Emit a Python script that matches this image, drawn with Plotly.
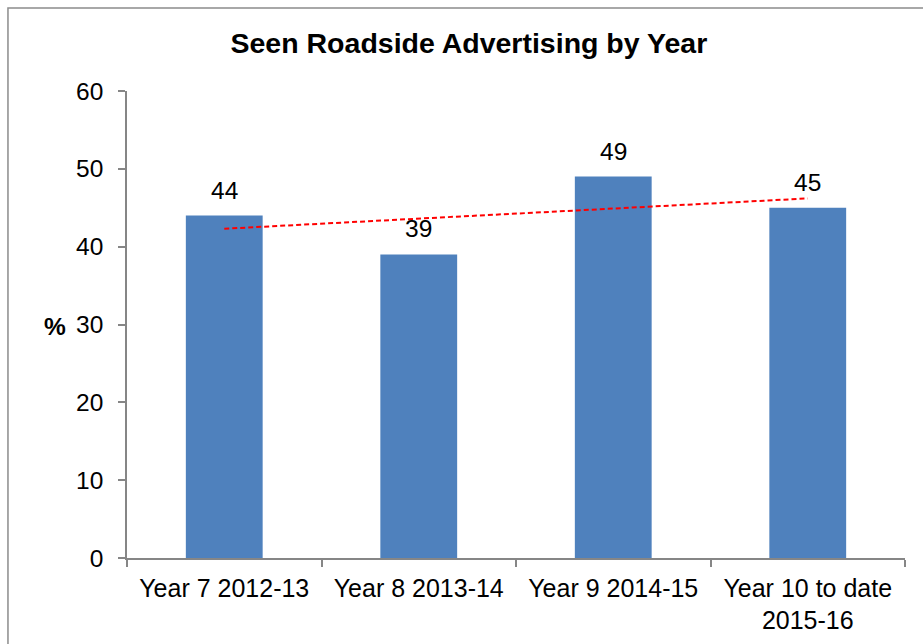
import numpy as np
import plotly.graph_objects as go

# Survey results: share who have seen roadside advertising, per year
categories = ["Year 7 2012-13", "Year 8 2013-14", "Year 9 2014-15", "Year 10 to date<br>2015-16"]
seen_pct = [44, 39, 49, 45]
y_ticks = [0, 10, 20, 30, 40, 50, 60]

FONT = "Liberation Sans, Arial, sans-serif"
BAR_BLUE = "#4F81BD"
AXIS_GREY = "#868686"

# Linear trend over the category positions (1..n)
pos = np.arange(1, len(seen_pct) + 1)
slope, intercept = np.polyfit(pos, seen_pct, 1)
trend = slope * pos + intercept

fig = go.Figure()
fig.add_trace(go.Bar(
    x=categories, y=seen_pct,
    marker=dict(color=BAR_BLUE, line=dict(width=0)),
    hoverinfo="skip", showlegend=False,
))
fig.add_trace(go.Scatter(
    x=[categories[0], categories[-1]], y=[trend[0], trend[-1]],
    mode="lines", line=dict(color="#FF0000", width=2, dash="5px,3px"),
    hoverinfo="skip", showlegend=False,
))

# Value labels above each bar
for cat, val in zip(categories, seen_pct):
    fig.add_annotation(
        x=cat, y=val, text=str(val), showarrow=False,
        yanchor="bottom", yshift=10,
        font=dict(family=FONT, size=24.5, color="#000000"),
    )

# Axis title "%" placed to the left of the tick labels
fig.add_annotation(
    xref="paper", yref="paper", x=-0.076, y=0.495, text="<b>%</b>",
    showarrow=False, xanchor="right", yanchor="middle",
    font=dict(family=FONT, size=24.5, color="#000000"),
)

# Outer chart frame
fig.add_shape(
    type="rect", xref="paper", yref="paper",
    x0=-0.153, x1=1.2, y0=-0.5, y1=1.1777,
    line=dict(color="#8C8C8C", width=1.5), fillcolor="rgba(0,0,0,0)", layer="below",
)

fig.update_layout(
    width=923, height=644,
    margin=dict(l=127, r=18, t=91, b=86),
    paper_bgcolor="#FFFFFF", plot_bgcolor="#FFFFFF",
    bargap=0.605,
    title=dict(
        text="<b>Seen Roadside Advertising by Year</b>",
        x=0.508, xanchor="center", y=0.933, yanchor="middle",
        font=dict(family=FONT, size=28.5, color="#000000"),
    ),
    font=dict(family=FONT, size=24.5, color="#000000"),
)
fig.update_xaxes(
    type="category", showgrid=False, zeroline=False, automargin=False,
    showline=True, linecolor=AXIS_GREY, linewidth=1.5,
    ticks="outside", tickson="boundaries", ticklen=7, tickcolor=AXIS_GREY, tickwidth=1.5,
    ticklabelstandoff=7,
    tickfont=dict(family=FONT, size=25, color="#000000"),
)
fig.update_yaxes(
    range=[0, 60], tickvals=y_ticks, showgrid=False, zeroline=False, automargin=False,
    showline=True, linecolor=AXIS_GREY, linewidth=1.5,
    ticks="outside", ticklen=7, tickcolor=AXIS_GREY, tickwidth=1.5,
    ticklabelstandoff=10,
    tickfont=dict(family=FONT, size=24.5, color="#000000"),
)

fig.write_html("out.html")
